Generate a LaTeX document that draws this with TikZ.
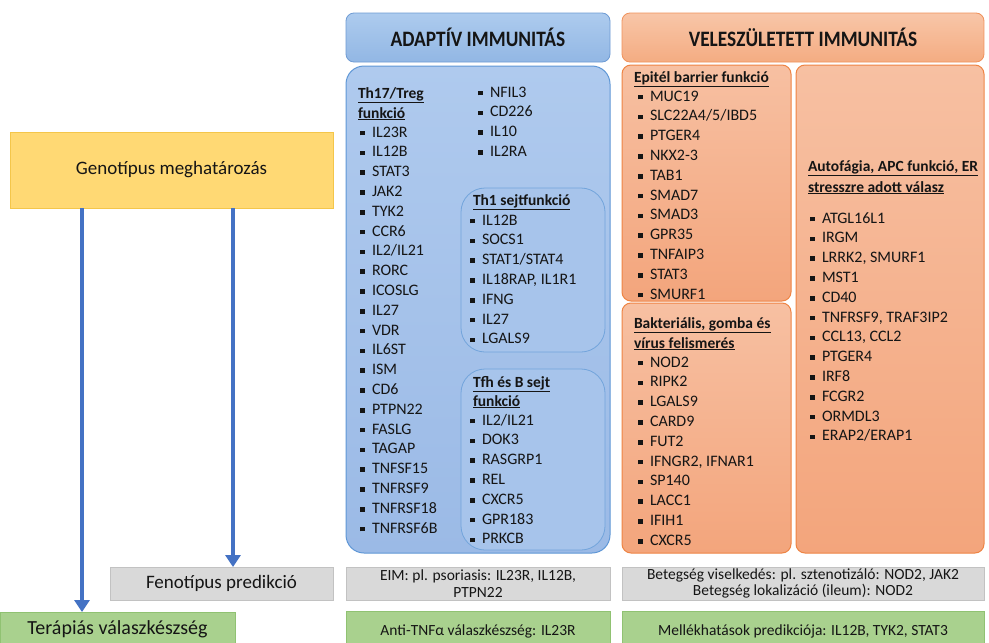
\documentclass[tikz,border=0pt]{standalone}
\usepackage{fontspec}
\setmainfont{Carlito}
\usetikzlibrary{arrows.meta}
\definecolor{txt}{HTML}{151515}
\definecolor{arrowblue}{HTML}{4472C4}
\definecolor{bhdrline}{HTML}{6E9BD4}
\definecolor{bhdrtop}{HTML}{ADCBEE}
\definecolor{bhdrbot}{HTML}{92B7E4}
\definecolor{bmaintop}{HTML}{AFCAEE}
\definecolor{bmainbot}{HTML}{9BBAE6}
\definecolor{bmainline}{HTML}{5F97D6}
\definecolor{binline}{HTML}{72A4DB}
\definecolor{ohdrline}{HTML}{F0915B}
\definecolor{ohdrtop}{HTML}{F8C6A8}
\definecolor{ohdrbot}{HTML}{F4AC82}
\definecolor{oboxtop}{HTML}{F7C0A2}
\definecolor{oboxbot}{HTML}{F3A57C}
\definecolor{oboxline}{HTML}{EE8444}
\definecolor{genofill}{HTML}{FFD974}
\definecolor{genoline}{HTML}{F4C64A}
\definecolor{grayfill}{HTML}{D9D9D9}
\definecolor{grayline}{HTML}{C2C2C2}
\definecolor{greenfill}{HTML}{A9D18E}
\definecolor{greenline}{HTML}{90C272}
\newcommand\bul{\raisebox{1.7pt}{\rule{4.5pt}{4.5pt}}\hspace{7.5pt}}
\newcommand\hdrtext[1]{\scalebox{0.88}[1]{\fontsize{22}{26}\selectfont\bfseries #1}}
\newcommand\glist[4]{%
  \foreach \gname [count=\gi] in {#4} {%
    \node[item] (#1\gi) at (#2, {#3+19.8*(\gi-1)}) {\bul\gname};}}
\begin{document}
\begin{tikzpicture}[x=1pt,y=-1pt,
  every node/.style={inner sep=0pt, outer sep=0pt, text=txt},
  boxnw/.style={anchor=north west},
  bluehdr/.style={boxnw, draw=bhdrline, line width=0.8pt, top color=bhdrtop, bottom color=bhdrbot,
    rounded corners=8pt},
  orghdr/.style={boxnw, draw=ohdrline, line width=0.8pt, top color=ohdrtop, bottom color=ohdrbot,
    rounded corners=8pt},
  bluemain/.style={boxnw, draw=bmainline, line width=1pt, top color=bmaintop, bottom color=bmainbot,
    rounded corners=18pt},
  bluein/.style={boxnw, draw=binline, line width=0.8pt, fill=bmaintop!60!bmainbot, rounded corners=24pt},
  orgbox/.style={boxnw, draw=oboxline, line width=1pt, top color=oboxtop, bottom color=oboxbot,
    rounded corners=9pt},
  genobox/.style={boxnw, draw=genoline, line width=0.8pt, fill=genofill,
    font=\fontsize{19}{23}\selectfont},
  graybox/.style={boxnw, draw=grayline, line width=0.8pt, fill=grayfill},
  greenbox/.style={boxnw, draw=greenline, line width=0.8pt, fill=greenfill},
  item/.style={anchor=base west, font=\fontsize{16}{19}\selectfont},
  ttl/.style={anchor=base west, font=\fontsize{15.5}{19}\selectfont\bfseries},
  btxt/.style={font=\fontsize{15.5}{16.5}\selectfont, align=center},
  arr/.style={draw=arrowblue, line width=4.5pt, -{Triangle[width=15pt,length=12pt]}}
]
\clip (0,0) rectangle (989,643);
\fill[white] (0,0) rectangle (989,643);

% left flow
\node[genobox, minimum width=323pt, minimum height=76pt] (geno) at (10,132) {Genotípus meghatározás};
\node[graybox, minimum width=223pt, minimum height=33pt, font=\fontsize{19}{23}\selectfont] (fen) at (110,567) {Fenotípus predikció};
\node[greenbox, minimum width=235pt, minimum height=35pt, font=\fontsize{20}{24}\selectfont] (ther) at (0,612) {Terápiás válaszkészség};
\draw[arr] (geno.south -| 82,0) -- (ther.north -| 82,0);
\draw[arr] (geno.south -| 233,0) -- (fen.north -| 233,0);

% headers
\node[bluehdr, minimum width=264pt, minimum height=49pt] (adhdr) at (346,13) {\hdrtext{ADAPTÍV IMMUNITÁS}};
\node[orghdr, minimum width=362pt, minimum height=49pt] (inhdr) at (622,13) {\hdrtext{VELESZÜLETETT IMMUNITÁS}};

% adaptive column
\node[bluemain, minimum width=264pt, minimum height=487pt] (admain) at (346,66) {};
\node[bluein, minimum width=144pt, minimum height=164pt] (th1box) at (461,188) {};
\node[bluein, minimum width=144pt, minimum height=181pt] (tfhbox) at (461,369) {};

\node[ttl] (th17t1) at (358,98) {\underline{Th17/Treg}};
\node[ttl] (th17t2) at (358,118) {\underline{funkció}};
\glist{th17}{360}{137}{IL23R,IL12B,STAT3,JAK2,TYK2,CCR6,IL2/IL21,RORC,ICOSLG,IL27,VDR,IL6ST,ISM,CD6,PTPN22,FASLG,TAGAP,TNFSF15,TNFRSF9,TNFRSF18,TNFRSF6B}
\glist{treg}{478}{97}{NFIL3,CD226,IL10,IL2RA}

\node[ttl] (th1t) at (473,205) {\underline{Th1 sejtfunkció}};
\glist{th1}{470}{225}{IL12B,SOCS1,STAT1/STAT4,{IL18RAP, IL1R1},IFNG,IL27,LGALS9}

\node[ttl] (tfht1) at (473,387) {\underline{Tfh és B sejt}};
\node[ttl] (tfht2) at (473,406) {\underline{funkció}};
\glist{tfh}{470}{425}{IL2/IL21,DOK3,RASGRP1,REL,CXCR5,GPR183,PRKCB}

% innate column
\node[orgbox, minimum width=169pt, minimum height=236pt] (epbox) at (622,65) {};
\node[orgbox, minimum width=169pt, minimum height=250pt] (bakbox) at (622,303) {};
\node[orgbox, minimum width=188pt, minimum height=488pt] (autbox) at (796,65) {};

\node[ttl] (ept) at (634,82) {\underline{Epitél barrier funkció}};
\glist{ep}{638}{101}{MUC19,SLC22A4/5/IBD5,PTGER4,NKX2-3,TAB1,SMAD7,SMAD3,GPR35,TNFAIP3,STAT3,SMURF1}

\node[ttl] (bakt1) at (634,328) {\underline{Bakteriális, gomba és}};
\node[ttl] (bakt2) at (634,348) {\underline{vírus felismerés}};
\glist{bak}{638}{367}{NOD2,RIPK2,LGALS9,CARD9,FUT2,{IFNGR2, IFNAR1},SP140,LACC1,IFIH1,CXCR5}

\node[ttl] (autt1) at (808,171) {\underline{Autofágia, APC funkció, ER}};
\node[ttl] (autt2) at (808,192) {\underline{stresszre adott válasz}};
\glist{aut}{810}{223}{ATGL16L1,IRGM,{LRRK2, SMURF1},MST1,CD40,{TNFRSF9, TRAF3IP2},{CCL13, CCL2},PTGER4,IRF8,FCGR2,ORMDL3,ERAP2/ERAP1}

% bottom rows
\node[graybox, minimum width=264pt, minimum height=33pt] (eim) at (346,567) {};
\node[btxt] (eimt) at (eim.center) {EIM: pl. psoriasis: IL23R, IL12B,\\PTPN22};
\node[graybox, minimum width=362pt, minimum height=33pt] (bet) at (622,567) {};
\node[btxt] (bett) at (bet.center) {Betegség viselkedés: pl. sztenotizáló: NOD2, JAK2\\Betegség lokalizáció (ileum): NOD2};
\node[greenbox, minimum width=264pt, minimum height=40pt] (anti) at (346,611) {};
\node[btxt] (antit) at (anti.center) {Anti-TNFα válaszkészség: IL23R};
\node[greenbox, minimum width=362pt, minimum height=40pt] (mell) at (622,611) {};
\node[btxt] (mellt) at (mell.center) {Mellékhatások predikciója: IL12B, TYK2, STAT3};
\end{tikzpicture}
\end{document}
